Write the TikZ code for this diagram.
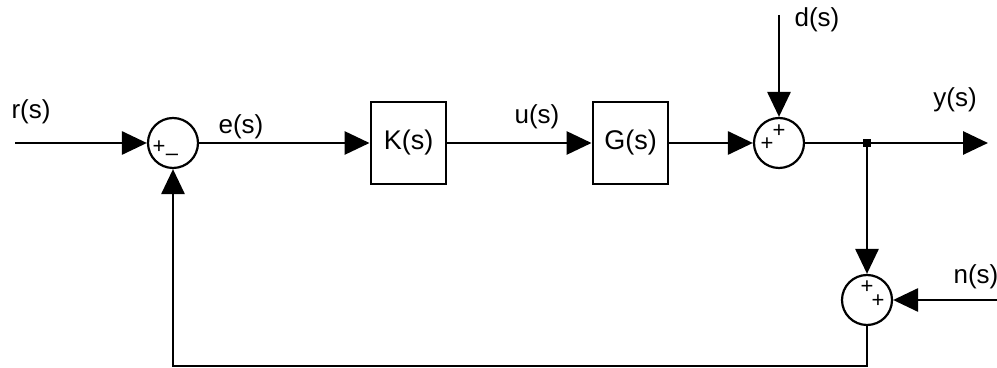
\documentclass[tikz,border=0pt]{standalone}
\usepackage{fontspec}
\setmainfont{Liberation Sans}
\usetikzlibrary{arrows.meta}

\begin{document}
\begin{tikzpicture}[x=0.5pt,y=-0.5pt,
  sig/.style={line width=1.45pt,-{Triangle[length=12.5pt,width=11.5pt]}},
  wire/.style={line width=1.45pt},
  sumnode/.style={circle,draw,line width=1.1pt,minimum size=25pt,inner sep=0pt},
  blk/.style={rectangle,draw,line width=1.45pt,minimum width=37.5pt,minimum height=41pt,font=\fontsize{13.5}{16}\selectfont},
  lbl/.style={font=\fontsize{13}{15}\selectfont,inner sep=0pt},
  sgn/.style={font=\fontsize{11}{12}\selectfont,inner sep=0pt}]
\useasboundingbox (0,0) rectangle (997,368);
% blocks and summing points
\node[sumnode] (sumE) at (173,143) {};
\node[blk] (K) at (408.5,143) {K(s)};
\node[blk] (G) at (630.5,143) {G(s)};
\node[sumnode] (sumD) at (779,143) {};
\node[fill,minimum size=4pt,inner sep=0pt] (br) at (867,143) {};
\node[sumnode] (sumN) at (867,300) {};
% signs
\node[sgn] (sE1) at ([shift={(-14,4)}]sumE) {+};
\node[sgn] (sE2) at ([shift={(-1,14)}]sumE) {\textendash};
\node[sgn] (sD1) at ([shift={(-12,1)}]sumD) {+};
\node[sgn] (sD2) at ([shift={(0,-12)}]sumD) {+};
\node[sgn] (sN1) at ([shift={(0,-13)}]sumN) {+};
\node[sgn] (sN2) at ([shift={(11,1)}]sumN) {+};
% free ends
\coordinate (rin) at (15,143);
\coordinate (yout) at (988,143);
\coordinate (din) at (779,15);
\coordinate (nin) at (997,300);
\coordinate (fb) at (173,366);
% signals
\draw[sig] (rin) -- (sumE);
\draw[sig] (sumE) -- (K);
\draw[sig] (K) -- (G);
\draw[sig] (G) -- (sumD);
\draw[sig] (din) -- (sumD);
\draw[wire] (sumD) -- (br);
\draw[sig] (br) -- (yout);
\draw[sig] (br) -- (sumN);
\draw[sig] (nin) -- (sumN);
\draw[sig] (sumN.south) |- (fb) -- (sumE.south);
% labels
\foreach \nm/\px/\py/\txt in {r/31/112/r(s), e/241/127/e(s), u/537/117/u(s),
  d/817/20/d(s), y/955/100/y(s), n/976/277/n(s)}
  \node[lbl] (lbl-\nm) at (\px,\py) {\txt};
\end{tikzpicture}
\end{document}
